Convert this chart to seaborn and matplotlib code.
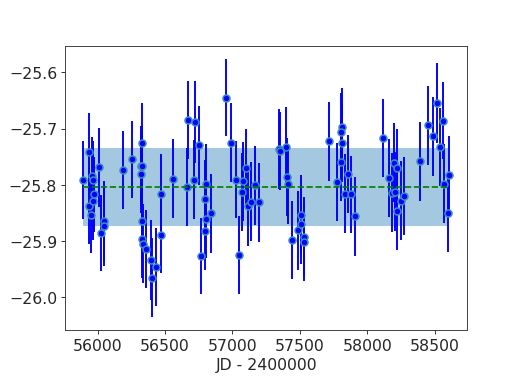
import numpy as np
import pandas as pd
import matplotlib
matplotlib.use("Agg")
import matplotlib.pyplot as plt
import seaborn as sns

# Julian dates (JD - 2400000)
jd = [55893, 55935, 55938, 55948, 55955, 55963, 55965, 55975, 56010, 56027,
      56045, 56049, 56188, 56255, 56322, 56332, 56332, 56322, 56332, 56332,
      56339, 56359, 56399, 56429, 56406, 56466, 56466, 56562, 56670, 56719,
      56664, 56716, 56754, 56765, 56806, 56798, 56804, 56793, 56838, 56955,
      56992, 57027, 57049, 57076, 57074, 57103, 57113, 57135, 57165, 57200,
      57347, 57351, 57396, 57403, 57414, 57443, 57488, 57510, 57507, 57533,
      57533, 57719, 57778, 57812, 57808, 57815, 57805, 57855, 57835, 57877,
      57909, 58120, 58165, 58199, 58219, 58182, 58207, 58225, 58254, 58277,
      58393, 58448, 58489, 58515, 58564, 58541, 58569, 58606, 58597]

mag = [-25.792, -25.741, -25.838, -25.854, -25.785, -25.829, -25.792, -25.817, -25.769, -25.886,
       -25.865, -25.874, -25.774, -25.755, -25.766, -25.725, -25.766, -25.780, -25.865, -25.896,
       -25.905, -25.914, -25.933, -25.946, -25.965, -25.816, -25.889, -25.789, -25.685, -25.688,
       -25.804, -25.791, -25.730, -25.927, -25.798, -25.826, -25.860, -25.882, -25.851, -25.645,
       -25.725, -25.791, -25.925, -25.794, -25.813, -25.770, -25.838, -25.830, -25.801, -25.831,
       -25.737, -25.740, -25.732, -25.786, -25.799, -25.898, -25.881, -25.853, -25.870, -25.892,
       -25.901, -25.723, -25.795, -25.698, -25.706, -25.725, -25.759, -25.781, -25.816, -25.817,
       -25.856, -25.717, -25.788, -25.761, -25.771, -25.814, -25.812, -25.846, -25.828, -25.820,
       -25.758, -25.694, -25.714, -25.654, -25.686, -25.733, -25.798, -25.783, -25.850]

err = [0.069, 0.069, 0.068, 0.068, 0.070, 0.070, 0.070, 0.067, 0.070, 0.068,
       0.072, 0.071, 0.069, 0.069, 0.071, 0.070, 0.070, 0.070, 0.070, 0.069,
       0.070, 0.070, 0.071, 0.070, 0.070, 0.071, 0.068, 0.070, 0.070, 0.073,
       0.070, 0.070, 0.070, 0.068, 0.070, 0.070, 0.070, 0.070, 0.070, 0.069,
       0.070, 0.068, 0.070, 0.070, 0.070, 0.070, 0.070, 0.070, 0.070, 0.070,
       0.071, 0.070, 0.070, 0.070, 0.070, 0.070, 0.070, 0.070, 0.070, 0.070,
       0.070, 0.070, 0.070, 0.070, 0.070, 0.070, 0.070, 0.070, 0.070, 0.068,
       0.070, 0.070, 0.070, 0.070, 0.070, 0.070, 0.070, 0.070, 0.070, 0.070,
       0.070, 0.070, 0.070, 0.071, 0.069, 0.070, 0.070, 0.070, 0.070]

mean_mag = -25.804
std_mag = 0.069

df = pd.DataFrame({"jd": jd, "mag": mag, "err": err})

sns.set_style("ticks")
plt.rcParams["font.family"] = ["DejaVu Sans"]
plt.rcParams["font.size"] = 14

fig, ax = plt.subplots(figsize=(6.4, 4.8), dpi=81)
fig.subplots_adjust(left=0.1255, right=0.901, top=0.88, bottom=0.1495)

xr = [df["jd"].min(), df["jd"].max()]
ax.fill_between(xr, mean_mag - std_mag, mean_mag + std_mag,
                color="#1f77b4", alpha=0.4, linewidth=0, zorder=1)
ax.errorbar(df["jd"], df["mag"], yerr=df["err"], fmt="none",
            ecolor="blue", elinewidth=1.7, zorder=2)
sns.scatterplot(data=df, x="jd", y="mag", ax=ax, color="blue",
                edgecolor="#3a8cc0", linewidth=1.4, s=38, zorder=3)
ax.plot(xr, [mean_mag, mean_mag], color="green", linestyle="--",
        linewidth=1.5, zorder=4)

ax.set_ylim(-26.058, -25.553)
ax.set_xticks([56000, 56500, 57000, 57500, 58000, 58500])
ax.set_yticks([-26.0, -25.9, -25.8, -25.7, -25.6])
ax.set_xlabel("JD - 2400000", fontsize=14)
ax.set_ylabel("")
ax.tick_params(labelsize=14)
for s in ax.spines.values():
    s.set_visible(True)
    s.set_color("#333333")

fig.savefig("out.png", dpi=81)
